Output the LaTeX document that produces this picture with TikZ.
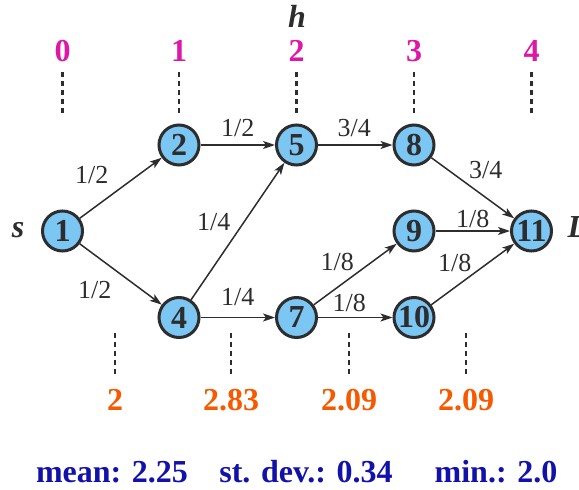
\documentclass[tikz,border=0pt]{standalone}
\usepackage{fontspec}
\setmainfont{Liberation Serif}
\usetikzlibrary{arrows.meta}
\definecolor{nodeblue}{RGB}{124,198,243}
\definecolor{levelpink}{RGB}{222,24,166}
\definecolor{avgorange}{RGB}{246,90,0}
\definecolor{statblue}{RGB}{18,18,170}
\definecolor{edgegray}{RGB}{45,45,45}

\begin{document}
\begin{tikzpicture}[x=1pt,y=-1pt,
    vertex/.style={circle,draw=edgegray,line width=3pt,fill=nodeblue,minimum size=40pt,inner sep=0pt,
      font=\fontsize{32}{32}\selectfont\bfseries,text=edgegray},
    flow/.style={-{Stealth[length=12pt,width=8pt,inset=3pt]},line width=1.5pt,draw=edgegray},
    elabel/.style={font=\fontsize{26}{26}\selectfont,text=edgegray,inner sep=0pt},
    guide/.style={draw=edgegray,line width=2.5pt,dash pattern=on 5pt off 4pt},
    level/.style={anchor=base,font=\fontsize{32}{32}\selectfont\bfseries,text=levelpink},
    avg/.style={anchor=base,font=\fontsize{32}{32}\selectfont\bfseries,text=avgorange},
    stat/.style={anchor=base,font=\fontsize{32}{32}\selectfont\bfseries,text=statblue},
    tag/.style={anchor=base,font=\fontsize{32}{32}\selectfont\bfseries\itshape,text=edgegray}]
    \useasboundingbox (0,0) rectangle (579,490);
    % Hop levels
    \node[tag] (h) at (297,27) {h};
    \foreach \i/\x in {0/62.5,1/179,2/296.5,3/414,4/531.5} {
        \node[level] (lvl\i) at (\x,61.5) {\i};
        \draw[guide] (\x,72) -- (\x,116);
    }
    % Vertices
    \node[vertex] (n1) at (62.5,231) {1};
    \node[vertex] (n2) at (179,145) {2};
    \node[vertex] (n4) at (179,317.5) {4};
    \node[vertex] (n5) at (296.5,145) {5};
    \node[vertex] (n7) at (296.5,317.5) {7};
    \node[vertex] (n8) at (414,145) {8};
    \node[vertex] (n9) at (414,231) {9};
    \node[vertex] (n10) at (414,317.5) {10};
    \node[vertex] (n11) at (531.5,231) {11};
    \node[tag] (src) at (18,237) {s};
    \node[tag,anchor=base west] (dst) at (564,237) {D};
    % Edges
    \draw[flow] (n1) -- node[elabel,shift={(-29,-13)}] {1/2} (n2);
    \draw[flow] (n1) -- node[elabel,shift={(-26,16)}] {1/2} (n4);
    \draw[flow] (n2) -- node[elabel,shift={(0,-17)}] {1/2} (n5);
    \draw[flow] (n4) -- node[elabel,shift={(-24,-9)}] {1/4} (n5);
    \draw[flow] (n4) -- node[elabel,shift={(0,-20)}] {1/4} (n7);
    \draw[flow] (n5) -- node[elabel,shift={(-1,-17)}] {3/4} (n8);
    \draw[flow] (n8) -- node[elabel,shift={(13,-18)}] {3/4} (n11);
    \draw[flow] (n7) -- node[elabel,shift={(-18,-12.5)}] {1/8} (n9);
    \draw[flow] (n7) -- node[elabel,shift={(-6,-15)}] {1/8} (n10);
    \draw[flow] (n9) -- node[elabel,shift={(0,-12)}] {1/8} (n11);
    \draw[flow] (n10) -- node[elabel,shift={(-18,-11.5)}] {1/8} (n11);
    % Average path lengths
    \foreach \i/\x/\v in {1/115/2,2/231/2.83,3/349/2.09,4/466/2.09} {
        \draw[guide] (\x,333) -- (\x,377);
        \node[avg] (avg\i) at (\x,410) {\v};
    }
    % Summary
    \node[stat] (mean) at (112,482) {mean: 2.25};
    \node[stat] (sdev) at (306,482) {st. dev.: 0.34};
    \node[stat] (mini) at (496,482) {min.: 2.0};
\end{tikzpicture}
\end{document}
